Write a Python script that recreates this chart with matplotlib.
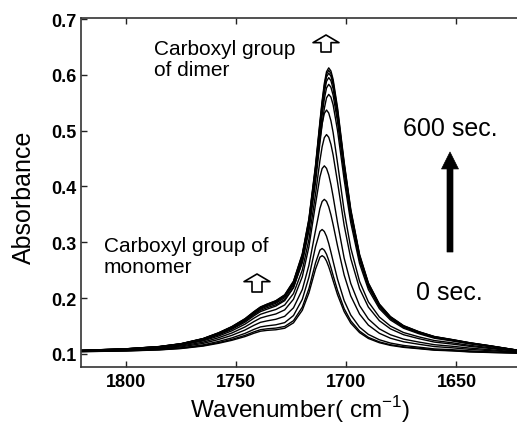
import matplotlib
matplotlib.use("Agg")
import matplotlib.pyplot as plt

plt.rcParams['font.family'] = ['Liberation Sans', 'DejaVu Sans']

# Wavenumber grid (cm^-1)
wavenumber = [1820, 1800, 1785, 1775, 1765, 1758, 1752, 1746, 1742, 1739, 1736, 1732,
              1728, 1724, 1720, 1717, 1714, 1712, 1711, 1710, 1709, 1708, 1707, 1706,
              1704, 1701, 1698, 1694, 1690, 1685, 1680, 1674, 1667, 1660, 1652, 1644,
              1635, 1622]

# Absorbance spectra, 0 sec ... 600 sec (every 50 sec)
s000 = [0.1042, 0.1054, 0.1073, 0.1098, 0.1142, 0.1192, 0.1245, 0.1312, 0.1371, 0.1408, 0.1423, 0.1434,
        0.1461, 0.1558, 0.1783, 0.2093, 0.2520, 0.2734, 0.2761, 0.2733, 0.2664, 0.2563, 0.2441, 0.2311,
        0.2061, 0.1759, 0.1553, 0.1383, 0.1278, 0.1202, 0.1154, 0.1119, 0.1094, 0.1068, 0.1056, 0.1037,
        0.1027, 0.1015]
s050 = [0.1043, 0.1056, 0.1076, 0.1102, 0.1150, 0.1204, 0.1261, 0.1333, 0.1396, 0.1435, 0.1451, 0.1464,
        0.1493, 0.1597, 0.1839, 0.2171, 0.2631, 0.2860, 0.2890, 0.2859, 0.2786, 0.2677, 0.2547, 0.2406,
        0.2138, 0.1813, 0.1594, 0.1410, 0.1298, 0.1217, 0.1166, 0.1129, 0.1102, 0.1074, 0.1061, 0.1043,
        0.1030, 0.1016]
s100 = [0.1046, 0.1060, 0.1082, 0.1111, 0.1164, 0.1225, 0.1288, 0.1369, 0.1440, 0.1485, 0.1504, 0.1523,
        0.1562, 0.1689, 0.1979, 0.2374, 0.2921, 0.3195, 0.3230, 0.3194, 0.3108, 0.2979, 0.2824, 0.2659,
        0.2340, 0.1956, 0.1698, 0.1481, 0.1351, 0.1255, 0.1196, 0.1153, 0.1122, 0.1091, 0.1077, 0.1056,
        0.1039, 0.1019]
s150 = [0.1049, 0.1067, 0.1093, 0.1128, 0.1190, 0.1260, 0.1334, 0.1430, 0.1513, 0.1567, 0.1593, 0.1622,
        0.1675, 0.1827, 0.2154, 0.2588, 0.3211, 0.3608, 0.3731, 0.3770, 0.3733, 0.3636, 0.3493, 0.3317,
        0.2935, 0.2415, 0.2040, 0.1715, 0.1517, 0.1371, 0.1283, 0.1218, 0.1174, 0.1133, 0.1111, 0.1083,
        0.1060, 0.1028]
s200 = [0.1053, 0.1073, 0.1103, 0.1143, 0.1212, 0.1292, 0.1376, 0.1485, 0.1580, 0.1644, 0.1678, 0.1717,
        0.1790, 0.1981, 0.2385, 0.2919, 0.3683, 0.4171, 0.4321, 0.4370, 0.4325, 0.4208, 0.4034, 0.3820,
        0.3352, 0.2718, 0.2264, 0.1867, 0.1627, 0.1450, 0.1345, 0.1266, 0.1213, 0.1166, 0.1139, 0.1106,
        0.1077, 0.1034]
s250 = [0.1058, 0.1080, 0.1114, 0.1158, 0.1235, 0.1322, 0.1415, 0.1535, 0.1641, 0.1711, 0.1750, 0.1797,
        0.1878, 0.2083, 0.2503, 0.3050, 0.3862, 0.4463, 0.4711, 0.4875, 0.4930, 0.4882, 0.4755, 0.4564,
        0.4076, 0.3307, 0.2711, 0.2171, 0.1840, 0.1596, 0.1451, 0.1345, 0.1274, 0.1213, 0.1178, 0.1137,
        0.1100, 0.1045]
s300 = [0.1060, 0.1084, 0.1120, 0.1167, 0.1249, 0.1342, 0.1441, 0.1570, 0.1683, 0.1759, 0.1803, 0.1859,
        0.1955, 0.2187, 0.2658, 0.3269, 0.4177, 0.4849, 0.5124, 0.5308, 0.5370, 0.5316, 0.5177, 0.4965,
        0.4419, 0.3565, 0.2900, 0.2301, 0.1933, 0.1662, 0.1501, 0.1384, 0.1306, 0.1241, 0.1201, 0.1155,
        0.1114, 0.1050]
s350 = [0.1062, 0.1087, 0.1125, 0.1173, 0.1259, 0.1354, 0.1457, 0.1589, 0.1704, 0.1783, 0.1829, 0.1882,
        0.1975, 0.2194, 0.2636, 0.3204, 0.4071, 0.4777, 0.5116, 0.5398, 0.5588, 0.5650, 0.5600, 0.5462,
        0.5003, 0.4123, 0.3354, 0.2620, 0.2155, 0.1812, 0.1610, 0.1461, 0.1362, 0.1282, 0.1234, 0.1181,
        0.1133, 0.1061]
s400 = [0.1064, 0.1090, 0.1128, 0.1178, 0.1265, 0.1364, 0.1469, 0.1604, 0.1723, 0.1804, 0.1852, 0.1909,
        0.2006, 0.2236, 0.2695, 0.3287, 0.4188, 0.4922, 0.5274, 0.5568, 0.5765, 0.5830, 0.5777, 0.5635,
        0.5157, 0.4244, 0.3445, 0.2682, 0.2202, 0.1845, 0.1633, 0.1479, 0.1376, 0.1294, 0.1243, 0.1189,
        0.1140, 0.1063]
s450 = [0.1064, 0.1092, 0.1130, 0.1181, 0.1271, 0.1371, 0.1478, 0.1617, 0.1739, 0.1821, 0.1870, 0.1929,
        0.2029, 0.2264, 0.2736, 0.3342, 0.4266, 0.5020, 0.5380, 0.5681, 0.5884, 0.5950, 0.5896, 0.5750,
        0.5260, 0.4323, 0.3505, 0.2723, 0.2229, 0.1864, 0.1648, 0.1490, 0.1385, 0.1302, 0.1250, 0.1194,
        0.1143, 0.1065]
s500 = [0.1065, 0.1092, 0.1131, 0.1182, 0.1272, 0.1373, 0.1481, 0.1620, 0.1743, 0.1826, 0.1876, 0.1937,
        0.2040, 0.2280, 0.2760, 0.3377, 0.4317, 0.5084, 0.5450, 0.5756, 0.5962, 0.6030, 0.5975, 0.5827,
        0.5329, 0.4377, 0.3547, 0.2751, 0.2250, 0.1878, 0.1658, 0.1499, 0.1392, 0.1307, 0.1254, 0.1198,
        0.1146, 0.1066]
s550 = [0.1065, 0.1093, 0.1133, 0.1185, 0.1276, 0.1379, 0.1489, 0.1630, 0.1755, 0.1839, 0.1890, 0.1950,
        0.2054, 0.2296, 0.2780, 0.3402, 0.4351, 0.5124, 0.5495, 0.5804, 0.6012, 0.6080, 0.6024, 0.5875,
        0.5372, 0.4411, 0.3572, 0.2769, 0.2263, 0.1887, 0.1665, 0.1503, 0.1395, 0.1310, 0.1257, 0.1200,
        0.1148, 0.1066]
s600 = [0.1065, 0.1093, 0.1133, 0.1185, 0.1277, 0.1380, 0.1490, 0.1632, 0.1757, 0.1842, 0.1893, 0.1955,
        0.2060, 0.2305, 0.2794, 0.3422, 0.4380, 0.5160, 0.5534, 0.5846, 0.6056, 0.6125, 0.6069, 0.5918,
        0.5411, 0.4441, 0.3595, 0.2784, 0.2274, 0.1895, 0.1671, 0.1508, 0.1399, 0.1313, 0.1259, 0.1202,
        0.1149, 0.1067]

spectra = [s000, s050, s100, s150, s200, s250, s300, s350, s400, s450, s500, s550, s600]

x_ticks = [1800, 1750, 1700, 1650]
y_ticks = [0.1, 0.2, 0.3, 0.4, 0.5, 0.6, 0.7]
y_tick_labels = ['0.1', '0.2', '0.3', '0.4', '0.5', '0.6', '0.7']

fig = plt.figure(figsize=(5.17, 4.31), dpi=100)
ax = fig.add_axes([81 / 517, 1 - 368 / 431, 1 - 81 / 517, (368 - 18.5) / 431])

for s in spectra:
    ax.plot(wavenumber, s, color='black', lw=1.0, solid_joinstyle='round')

ax.set_xlim(1820.5, 1622.5)
ax.set_ylim(0.0767, 0.7027)
ax.set_xticks(x_ticks)
ax.set_yticks(y_ticks)
ax.set_yticklabels(y_tick_labels)
ax.tick_params(direction='in', length=4, width=1.0, top=True, right=False,
               labelsize=13, colors='#222222')
ax.tick_params(axis='x', pad=4.5)
ax.tick_params(axis='y', pad=3)
for lab in ax.get_xticklabels() + ax.get_yticklabels():
    lab.set_fontweight('bold')
    lab.set_color('black')
ax.spines['right'].set_visible(False)
for sp in ['left', 'top', 'bottom']:
    ax.spines[sp].set_linewidth(1.2)
    ax.spines[sp].set_color('#333333')

fig.text(300 / 517, 1 - 410 / 431, 'Wavenumber( cm$^{\\mathregular{-1}}$)', fontsize=17.5,
         ha='center', va='center')
fig.text(24 / 517, 1 - 197 / 431, 'Absorbance', fontsize=18, rotation=90,
         ha='center', va='center')

fig.text(154 / 517, 1 - 40 / 431, 'Carboxyl group\nof dimer', fontsize=15,
         ha='left', va='top', linespacing=1.15)
fig.text(104 / 517, 1 - 237 / 431, 'Carboxyl group of\nmonomer', fontsize=15,
         ha='left', va='top', linespacing=1.15)
fig.text(450 / 517, 1 - 129 / 431, '600 sec.', fontsize=18, ha='center', va='center')
fig.text(449 / 517, 1 - 293 / 431, '0 sec.', fontsize=18, ha='center', va='center')

# hollow arrows
hollow = dict(arrowstyle='simple,head_width=1.87,head_length=0.55,tail_width=0.72',
              fc='white', ec='black', lw=1.2, shrinkA=0, shrinkB=0, mutation_scale=10)
ax.annotate('', xy=(326, 431 - 36), xytext=(326, 431 - 53), xycoords='figure pixels',
            textcoords='figure pixels', arrowprops=hollow)
ax.annotate('', xy=(257, 431 - 275), xytext=(257, 431 - 293), xycoords='figure pixels',
            textcoords='figure pixels', arrowprops=hollow)
# solid arrow
solid = dict(arrowstyle='simple,head_width=1.22,head_length=1.22,tail_width=0.43',
             fc='black', ec='black', lw=0.5, shrinkA=0, shrinkB=0, mutation_scale=10)
ax.annotate('', xy=(450, 431 - 153), xytext=(450, 431 - 253), xycoords='figure pixels',
            textcoords='figure pixels', arrowprops=solid)

fig.savefig('out.png', dpi=100)
